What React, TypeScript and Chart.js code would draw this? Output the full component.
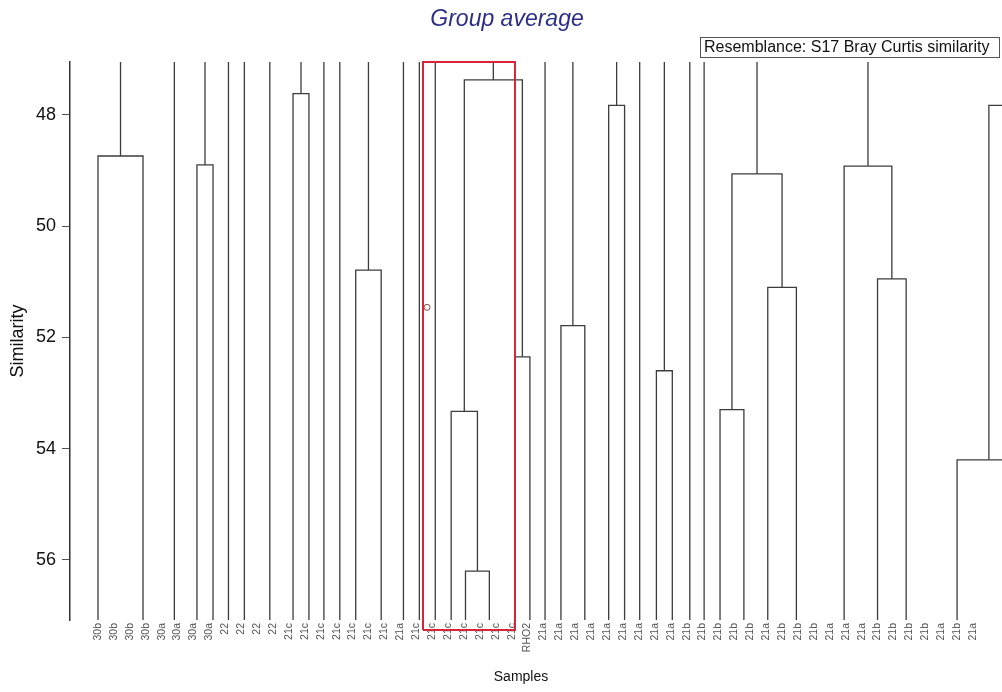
import { useEffect, useRef } from "react";
import { Chart, registerables } from "chart.js";

Chart.register(...registerables);

// ---------- data ----------
const chartTitle = "Group average";
const resemblanceText = "Resemblance: S17 Bray Curtis similarity";
const xAxisTitle = "Samples";
const yAxisTitle = "Similarity";

const leafLabels = [
  "30b", "30b", "30b", "30b", "30a", "30a", "30a", "30a", "22", "22", "22", "22",
  "21c", "21c", "21c", "21c", "21c", "21c", "21c", "21a", "21c", "21c", "21c", "21c", "21c", "21c", "21c", "RHO2",
  "21a", "21a", "21a", "21a", "21a", "21a", "21a", "21a", "21a", "21b", "21b", "21b", "21b", "21b", "21a", "21b",
  "21b", "21b", "21a", "21a", "21a", "21b", "21b", "21b", "21b", "21a", "21b", "21a",
];

const similarityTicks = [48, 50, 52, 54, 56];

// visible similarity window (reversed axis: low similarity at top)
const simTop = 47.05;
const simBottom = 57.08;

// branches that stay unjoined across the whole visible window (leaf-index position)
const openBranchX = [4.8, 8.2, 9.2, 10.8, 14.2, 15.2, 19.2, 20.2, 21.2, 28.1, 34.05, 37.2, 38.1];

// merges: left / right child (number = branch position, "mN" = merge N), similarity level
const mergeLeft: (number | string)[] = [
  0, 6.22, 12.26, 16.2, 23.1, 22.2, 26.2, "m5", 29.1, 32.1, 35.1, 39.1, 42.1, "m11", 49.0, 46.9, 54.0, "m16",
];
const mergeRight: (number | string)[] = [
  2.83, 7.23, 13.26, 17.8, 24.6, "m4", 27.15, "m6", 30.6, 33.1, 36.1, 40.6, 43.9, "m12", 50.8, "m14", 58.0, 60.0,
];
const mergeSim = [
  48.74, 48.9, 47.62, 50.79, 56.2, 53.33, 52.35, 47.37, 51.79, 47.83, 52.6, 53.3, 51.1, 49.06, 50.95, 48.92, 54.2, 47.83,
];

// highlighted group (red frame), in leaf-index / similarity units
const highlightX = [20.43, 26.21];
const highlightSim = [simTop, 57.26];
const markerPoint = { x: 20.68, y: 51.46 };

// ---------- helpers ----------
const FONT = '"Liberation Sans", Arial, Helvetica, sans-serif';
const LINE_COLOR = "#3c3c3c";

function refIndex(r: number | string): number {
  return typeof r === "string" ? parseInt(r.slice(1), 10) : -1;
}
function xOf(r: number | string): number {
  if (typeof r === "number") return r;
  const i = refIndex(r);
  return (xOf(mergeLeft[i]) + xOf(mergeRight[i])) / 2;
}
function bottomOf(r: number | string): number {
  if (typeof r === "number") return simBottom;
  return mergeSim[refIndex(r)];
}

function buildDatasets() {
  const sets: any[] = [];
  const base = {
    showLine: true,
    borderColor: LINE_COLOR,
    borderWidth: 1.3,
    pointRadius: 0,
    pointHoverRadius: 0,
    fill: false,
    tension: 0,
    clip: false,
  };
  // red frame first -> drawn on top
  sets.push({
    ...base,
    borderColor: "#d8243a",
    borderWidth: 2,
    data: [
      { x: highlightX[0], y: highlightSim[1] },
      { x: highlightX[0], y: highlightSim[0] },
      { x: highlightX[1], y: highlightSim[0] },
      { x: highlightX[1], y: highlightSim[1] },
      { x: highlightX[0], y: highlightSim[1] },
    ],
  });
  sets.push({
    showLine: false,
    data: [markerPoint],
    pointRadius: 3,
    pointBorderColor: "#8a4a3a",
    pointBackgroundColor: "rgba(0,0,0,0)",
    pointBorderWidth: 1,
  });

  openBranchX.forEach((x) => {
    sets.push({ ...base, data: [{ x, y: simBottom }, { x, y: simTop }] });
  });

  const hasParent = new Array(mergeSim.length).fill(false);
  mergeLeft.concat(mergeRight).forEach((r) => {
    const i = refIndex(r);
    if (i >= 0) hasParent[i] = true;
  });

  mergeSim.forEach((h, i) => {
    const xl = xOf(mergeLeft[i]);
    const xr = xOf(mergeRight[i]);
    sets.push({
      ...base,
      data: [
        { x: xl, y: bottomOf(mergeLeft[i]) },
        { x: xl, y: h },
        { x: xr, y: h },
        { x: xr, y: bottomOf(mergeRight[i]) },
      ],
    });
    if (!hasParent[i]) {
      const xm = (xl + xr) / 2;
      sets.push({ ...base, data: [{ x: xm, y: h }, { x: xm, y: simTop }] });
    }
  });
  return sets;
}

const textPlugin = {
  id: "extraTexts",
  afterDraw(chart: any) {
    const ctx = chart.ctx as CanvasRenderingContext2D;
    ctx.save();
    ctx.fillStyle = "#2c2f88";
    ctx.font = `italic 23px ${FONT}`;
    ctx.textAlign = "center";
    ctx.textBaseline = "middle";
    ctx.fillText(chartTitle, 507, 20);

    ctx.fillStyle = "#ffffff";
    ctx.fillRect(700, 37, 300, 20);
    ctx.strokeStyle = "#555";
    ctx.lineWidth = 1;
    ctx.strokeRect(700.5, 37.5, 299, 20);
    ctx.fillStyle = "#111";
    ctx.font = `16px ${FONT}`;
    ctx.textAlign = "left";
    ctx.fillText(resemblanceText, 704, 48);

    ctx.font = `14px ${FONT}`;
    ctx.textAlign = "center";
    ctx.fillText(xAxisTitle, 521, 677);
    ctx.restore();
  },
};

export default function App() {
  const ref = useRef<HTMLCanvasElement>(null);
  useEffect(() => {
    if (!ref.current) return;
    const chart = new Chart(ref.current, {
      type: "scatter",
      data: { datasets: buildDatasets() },
      options: {
        animation: false,
        responsive: true,
        maintainAspectRatio: false,
        layout: { padding: { top: 62, left: 0, right: 0, bottom: 0 } },
        plugins: {
          legend: { display: false },
          tooltip: { enabled: false },
          title: { display: false },
        },
        scales: {
          x: {
            type: "linear",
            min: -1.76,
            max: 56.51,
            grid: { display: false, drawTicks: false },
            border: { display: false },
            afterBuildTicks: (ax: any) => {
              ax.ticks = leafLabels.map((_, i) => ({ value: i }));
            },
            afterFit: (ax: any) => {
              ax.height = 72;
            },
            ticks: {
              autoSkip: false,
              minRotation: 90,
              maxRotation: 90,
              padding: 3,
              color: "#555",
              font: { size: 10.5, family: FONT },
              callback: (v: any) => leafLabels[Math.round(Number(v))] ?? "",
            },
          },
          y: {
            type: "linear",
            reverse: true,
            min: simTop,
            max: simBottom,
            afterBuildTicks: (ax: any) => {
              ax.ticks = similarityTicks.map((v) => ({ value: v }));
            },
            afterFit: (ax: any) => {
              ax.width = 70;
            },
            grid: {
              drawOnChartArea: false,
              drawTicks: true,
              tickLength: 8,
              color: "#555",
            },
            border: { display: true, color: "#333", width: 1.5 },
            ticks: {
              padding: 6,
              color: "#111",
              font: { size: 18, family: FONT },
              callback: (v: any) => String(v),
            },
            title: {
              display: true,
              text: yAxisTitle,
              color: "#111",
              font: { size: 18, family: FONT },
              padding: 7,
            },
          },
        },
      } as any,
      plugins: [textPlugin],
    });
    return () => chart.destroy();
  }, []);

  return (
    <div style={{ position: "fixed", left: 0, top: 0, width: 1002, height: 692, background: "#fff" }}>
      <canvas ref={ref} />
    </div>
  );
}
